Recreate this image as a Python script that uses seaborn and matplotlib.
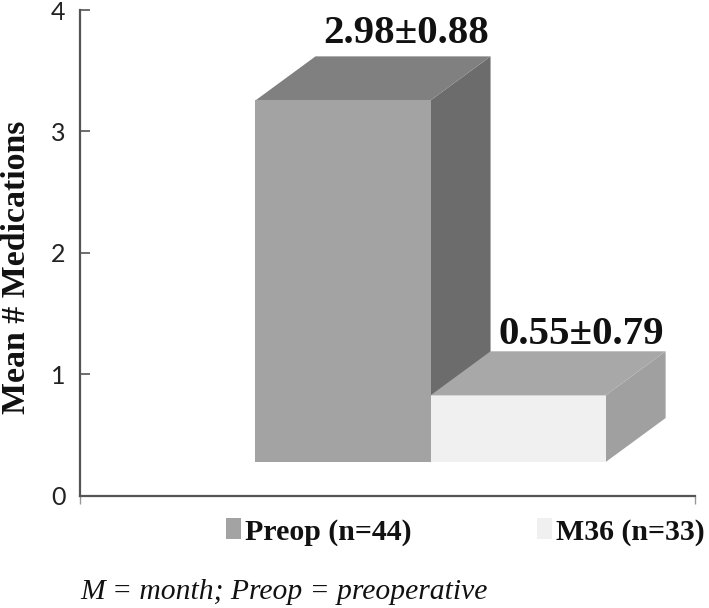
import matplotlib
matplotlib.use("Agg")
import matplotlib.pyplot as plt
from matplotlib.patches import Polygon, Patch
import seaborn as sns

groups = ["Preop (n=44)", "M36 (n=33)"]
means = [2.98, 0.55]
value_labels = ["2.98\u00b10.88", "0.55\u00b10.79"]
y_ticks = [0, 1, 2, 3, 4]
front_colors = ["#a3a3a3", "#f0f0f0"]
top_colors = ["#808080", "#a8a8a8"]
side_colors = ["#6c6c6c", "#a0a0a0"]

W, H = 709, 608
sns.set_theme(style="white")
fig = plt.figure(figsize=(W / 100, H / 100), dpi=100)
ax = fig.add_axes([79.5 / W, 1 - 495.5 / H, (694.5 - 79.5) / W, (495.5 - 10) / H])

base = 0.275
dx, dy = 0.343, 0.363
label_lift = [0.19, 0.135]

sns.barplot(x=groups, y=means, hue=groups, palette=front_colors, width=1.0,
            bottom=base, legend=False, saturation=1, ax=ax, zorder=5, linewidth=0)

ax.set_xlim(-1.505, 2.008)
ax.set_ylim(0, 4)

for i, bar in enumerate(ax.patches):
    x0, x1 = bar.get_x(), bar.get_x() + bar.get_width()
    y0, y1 = bar.get_y(), bar.get_y() + bar.get_height()
    z = 2 + 2 * i
    ax.add_patch(Polygon([(x1, y0), (x1 + dx, y0 + dy), (x1 + dx, y1 + dy), (x1, y1)],
                         closed=True, fc=side_colors[i], ec="none", zorder=z))
    ax.add_patch(Polygon([(x0, y1), (x1, y1), (x1 + dx, y1 + dy), (x0 + dx, y1 + dy)],
                         closed=True, fc=top_colors[i], ec="none", zorder=z + 1))
    ax.text((x0 + x1) / 2 + 0.36, y1 + dy + label_lift[i], value_labels[i], ha="center", va="center",
            family="Liberation Serif", weight="bold", fontsize=29.5, color="#111111", zorder=9)

sns.despine(ax=ax, top=True, right=True)
for s in ("left", "bottom"):
    ax.spines[s].set_color("#555555")
    ax.spines[s].set_linewidth(1.6)

ax.set_yticks(y_ticks)
ax.set_yticklabels([str(t) for t in y_ticks], family="Lato", fontsize=18, color="#222222")
ax.tick_params(axis="y", direction="in", length=7, width=1.2, color="#555555", pad=10, left=True)
ax.set_xticks([-1.505, 2.008])
ax.set_xticklabels(["", ""])
ax.tick_params(axis="x", direction="out", length=6, width=1.0, color="#999999", bottom=True)
ax.set_xlabel("")
ax.set_ylabel("")

fig.text(17 / W, 1 - 267 / H, "Mean # Medications", rotation=90, ha="center", va="center",
         family="Liberation Serif", weight="bold", fontsize=24.4, color="#111111")

handles = [Patch(fc=c, ec="none", label=g) for c, g in zip(front_colors, groups)]
fig.legend(handles=handles, ncol=2, frameon=False, loc="center left",
           bbox_to_anchor=(226 / W, 1 - 532 / H),
           prop={"family": "Liberation Serif", "weight": "bold", "size": 21.5},
           handlelength=0.5, handleheight=0.7, handletextpad=0.14, columnspacing=4.2,
           labelcolor="#111111", borderpad=0, borderaxespad=0)

fig.text(80 / W, 1 - 592 / H, "M = month; Preop = preoperative", ha="left", va="center",
         family="Liberation Serif", style="italic", fontsize=21.3, color="#111111")

fig.savefig("out.png", dpi=100)
